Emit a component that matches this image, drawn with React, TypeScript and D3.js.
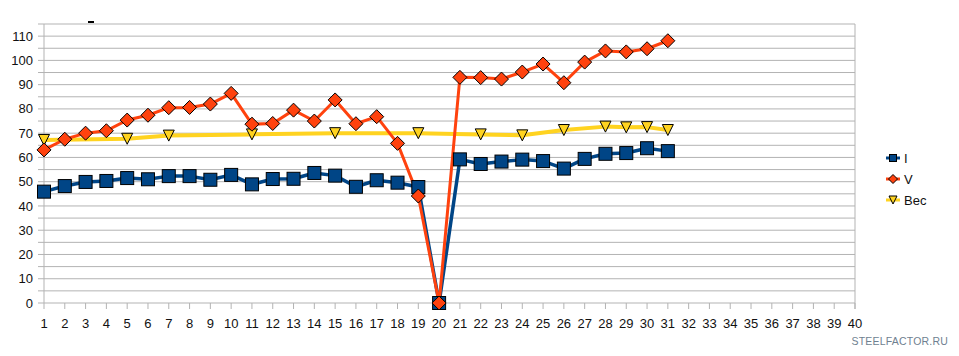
import React from "react";
import * as d3 from "d3";

const categories = ["1","2","3","4","5","6","7","8","9","10","11","12","13","14","15","16","17","18","19","20","21","22","23","24","25","26","27","28","29","30","31","32","33","34","35","36","37","38","39","40"];
const seriesI = [45.9,48.2,49.9,50.3,51.5,51.0,52.3,52.3,50.8,52.8,48.9,51.1,51.2,53.6,52.5,47.9,50.6,49.6,47.8,0,59.2,57.3,58.3,59.1,58.5,55.4,59.4,61.5,61.8,63.8,62.6];
const seriesV = [63.1,67.5,70.0,71.0,75.4,77.4,80.5,80.6,82.0,86.4,73.7,74.0,79.5,75.0,83.7,73.9,76.8,65.8,44.1,0,93.0,92.9,92.3,95.2,98.5,90.8,99.3,103.9,103.5,104.8,108.1];
const seriesW: (number | null)[] = [67.2,null,null,null,67.7,null,69.0,null,null,null,69.5,null,null,null,70.0,null,null,null,70.0,null,null,69.5,null,69.1,null,71.3,null,72.7,72.4,72.5,71.3];
const yLabels = [0,10,20,30,40,50,60,70,80,90,100,110];
const yGrid = [0,5,10,15,20,25,30,35,40,45,50,55,60,65,70,75,80,85,90,95,100,105,110,115];
const seriesNames = ["I", "V", "Вес"];

const BLUE = "#004586";
const RED = "#ff420e";
const YELLOW = "#ffd320";
const GRID = "#b3b3b3";
const FONT = "'Liberation Sans', Arial, sans-serif";

export default function App() {
  const x = d3.scalePoint<string>().domain(categories).range([44, 855]);
  const y = d3.scaleLinear().domain([0, 115]).range([303, 24]);

  const ptsI = seriesI.map((v, i) => [x(categories[i]) as number, y(v)] as [number, number]);
  const ptsV = seriesV.map((v, i) => [x(categories[i]) as number, y(v)] as [number, number]);
  const ptsW = seriesW
    .map((v, i) => (v === null ? null : ([x(categories[i]) as number, y(v)] as [number, number])))
    .filter((p): p is [number, number] => p !== null);

  const line = d3.line();

  const square = (p: [number, number], s: number, key: string | number) => (
    <rect key={key} x={p[0] - s / 2} y={p[1] - s / 2} width={s} height={s} fill={BLUE} stroke="#000" strokeWidth={1} />
  );
  const diamond = (p: [number, number], r: number, key: string | number) => (
    <path key={key} d={`M${p[0]},${p[1] - r}L${p[0] + r},${p[1]}L${p[0]},${p[1] + r}L${p[0] - r},${p[1]}Z`} fill={RED} stroke="#000" strokeWidth={1} />
  );
  const tri = (p: [number, number], w: number, key: string | number) => (
    <path key={key} d={`M${p[0] - w / 2},${p[1] - w / 2}L${p[0] + w / 2},${p[1] - w / 2}L${p[0]},${p[1] + w / 2}Z`} fill={YELLOW} stroke="#000" strokeWidth={1} />
  );

  const legendY = [158, 179, 200];

  return (
    <svg width={959} height={356} style={{ position: "absolute", left: 0, top: 0, background: "#fff" }} fontFamily={FONT}>
      <rect x={0} y={0} width={959} height={356} fill="#fff" />
      {/* small title dash */}
      <rect x={88} y={21} width={6} height={2} fill="#000" />
      {/* gridlines */}
      {yGrid.map((g) => (
        <g key={g}>
          <line x1={38} x2={855} y1={y(g)} y2={y(g)} stroke={GRID} strokeWidth={1} />
        </g>
      ))}
      <line x1={44} x2={44} y1={24} y2={303} stroke={GRID} strokeWidth={1} />
      <line x1={855} x2={855} y1={24} y2={309} stroke={GRID} strokeWidth={1} />
      {categories.map((c) => (
        <line key={c} x1={x(c)} x2={x(c)} y1={303} y2={309} stroke={GRID} strokeWidth={1} />
      ))}
      {yLabels.map((v) => (
        <text key={v} x={33} y={y(v)} dy="0.35em" textAnchor="end" fontSize={13} fill="#111">{v}</text>
      ))}
      {categories.map((c) => (
        <text key={c} x={x(c)} y={328} textAnchor="middle" fontSize={13} fill="#111">{c}</text>
      ))}
      {/* lines */}
      <path d={line(ptsW) || ""} fill="none" stroke={YELLOW} strokeWidth={4} strokeLinejoin="round" />
      <path d={line(ptsI) || ""} fill="none" stroke={BLUE} strokeWidth={3.5} strokeLinejoin="round" />
      <path d={line(ptsV) || ""} fill="none" stroke={RED} strokeWidth={3} strokeLinejoin="round" />
      {/* markers */}
      {ptsW.map((p, i) => tri(p, 11, "w" + i))}
      {ptsI.map((p, i) => square(p, 13, "i" + i))}
      {ptsV.map((p, i) => diamond(p, 7, "v" + i))}
      {/* legend */}
      <g>
        <line x1={886} x2={900} y1={legendY[0]} y2={legendY[0]} stroke={BLUE} strokeWidth={3} />
        {square([893, legendY[0]], 7, "li")}
        <line x1={886} x2={900} y1={legendY[1]} y2={legendY[1]} stroke={RED} strokeWidth={3} />
        {diamond([893, legendY[1]], 4.5, "lv")}
        <line x1={886} x2={900} y1={legendY[2]} y2={legendY[2]} stroke={YELLOW} strokeWidth={3} />
        {tri([893, legendY[2]], 8, "lw")}
        {seriesNames.map((n, i) => (
          <text key={n} x={904} y={legendY[i]} dy="0.35em" fontSize={13} fill="#111">{n}</text>
        ))}
      </g>
      <text x={948} y={345} textAnchor="end" fontSize={10.5} fill="#6f7f90" letterSpacing={0.2}>STEELFACTOR.RU</text>
    </svg>
  );
}
